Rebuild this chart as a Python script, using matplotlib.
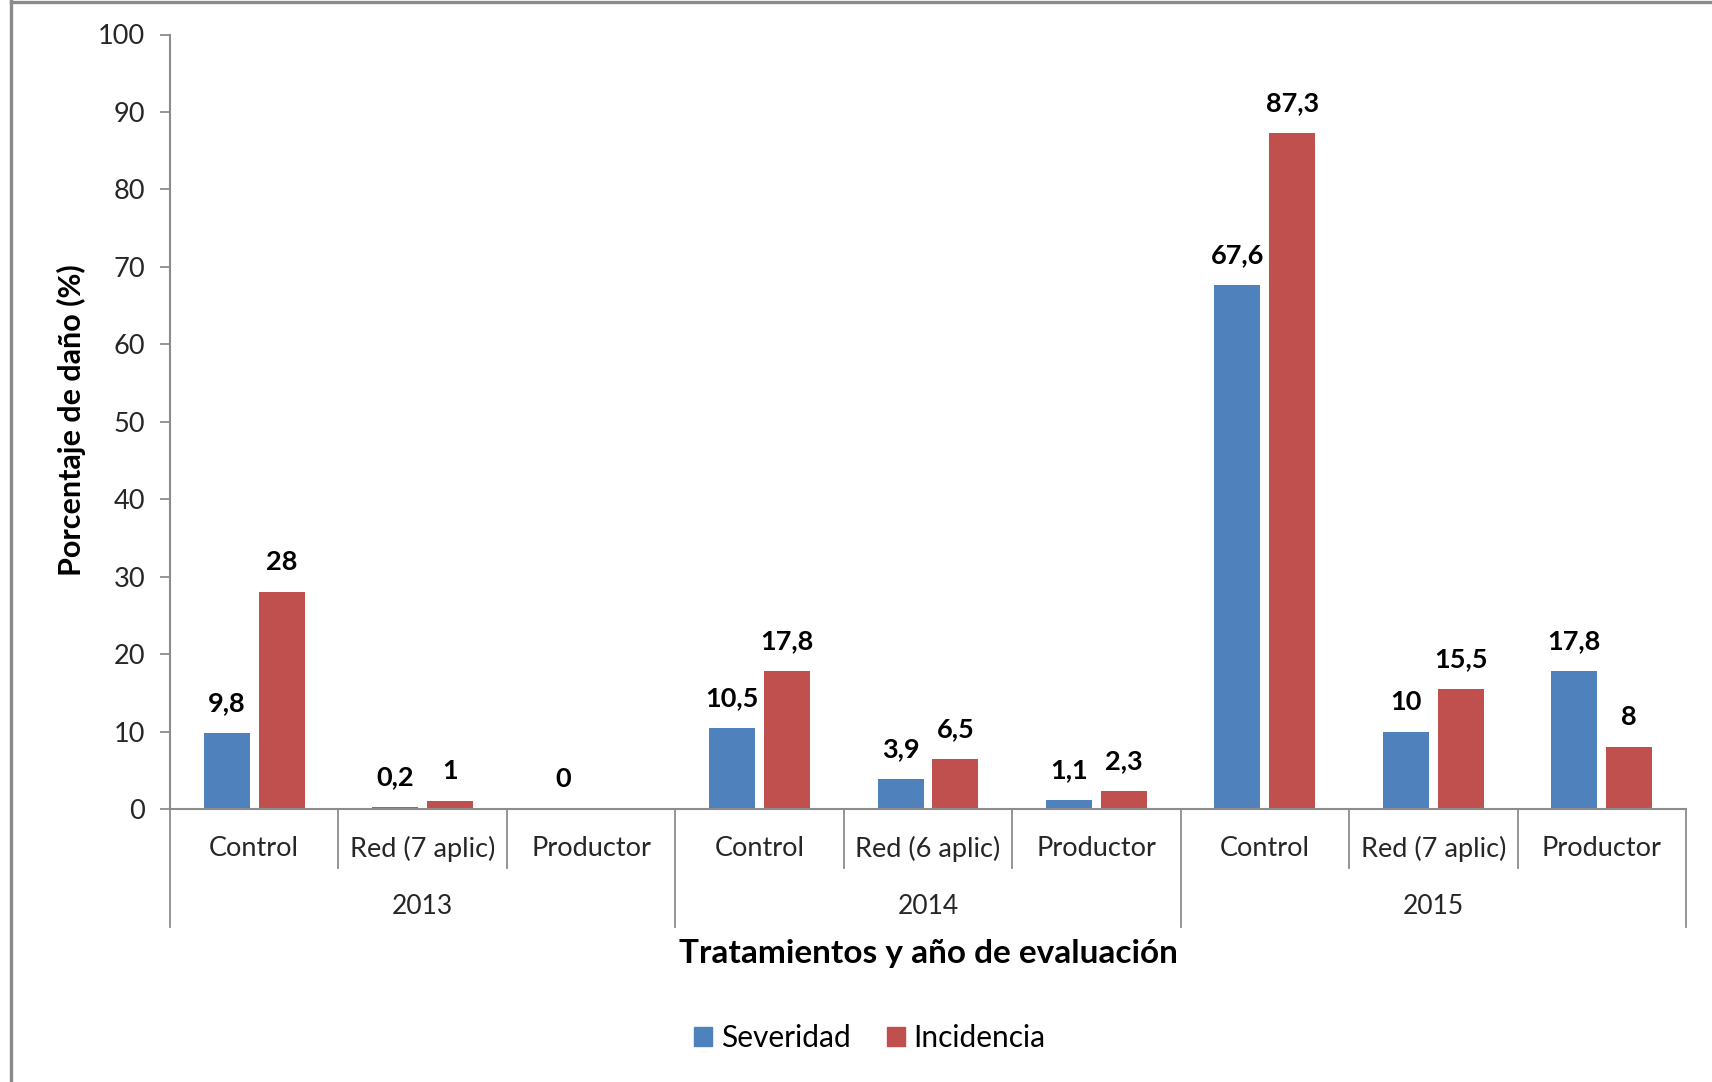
import numpy as np
import matplotlib
matplotlib.use("Agg")
import matplotlib.pyplot as plt
from matplotlib.transforms import blended_transform_factory
from matplotlib.lines import Line2D
from matplotlib.patches import Patch

# ---- data -------------------------------------------------------------
categories = ["Control", "Red (7 aplic)", "Productor",
              "Control", "Red (6 aplic)", "Productor",
              "Control", "Red (7 aplic)", "Productor"]
years = ["2013", "2014", "2015"]
severidad = [9.8, 0.2, 0, 10.5, 3.9, 1.1, 67.6, 10, 17.8]
incidencia = [28, 1, np.nan, 17.8, 6.5, 2.3, 87.3, 15.5, 8]
y_ticks = [0, 10, 20, 30, 40, 50, 60, 70, 80, 90, 100]

# ---- style ------------------------------------------------------------
plt.rcParams['font.family'] = ['Lato', 'DejaVu Sans']
BLUE = "#4F81BD"
RED = "#C0504D"
AXIS_GREY = "#8C8C8C"
TEXT = "#262626"

W, H = 1712, 1082
DPI = 100
fig = plt.figure(figsize=(W / DPI, H / DPI), dpi=DPI)

# axes placement in pixels
x0_px, x1_px = 170, 1686
y_top_px, y_base_px = 34.5, 809
ax = fig.add_axes([x0_px / W, 1 - y_base_px / H,
                   (x1_px - x0_px) / W, (y_base_px - y_top_px) / H])

n = len(categories)
x = np.arange(n)
bar_w = 0.273
off = 0.163

ax.bar(x - off, severidad, width=bar_w, color=BLUE, label="Severidad", zorder=1)
ax.bar(x + off, incidencia, width=bar_w, color=RED, label="Incidencia", zorder=1)

def fmt(v):
    return f"{v:g}".replace(".", ",")

for xs, vals in ((x - off, severidad), (x + off, incidencia)):
    for xi, v in zip(xs, vals):
        if not np.isnan(v):
            ax.annotate(fmt(v), (xi, v), xytext=(0, 21.5), textcoords="offset points",
                        ha="center", va="center", fontweight="bold", fontsize=19.5,
                        color="black")

ax.set_xlim(-0.5, n - 0.5)
ax.set_ylim(0, 100)
ax.set_yticks(y_ticks)
ax.tick_params(axis="y", length=7, width=1.3, color=AXIS_GREY, pad=11,
               labelsize=19.5, labelcolor=TEXT)
ax.set_xticks([])
for s in ["top", "right"]:
    ax.spines[s].set_visible(False)
for s in ["left", "bottom"]:
    ax.spines[s].set_color(AXIS_GREY)
    ax.spines[s].set_linewidth(1.5)
    ax.spines[s].set_zorder(3)

# multi-level category axis
trans = blended_transform_factory(ax.transData, fig.transFigure)
cat_sep_px, grp_sep_px = 868, 927
for b in range(n + 1):
    bx = b - 0.5
    bottom = grp_sep_px if b % 3 == 0 else cat_sep_px
    ax.add_line(Line2D([bx, bx], [1 - y_base_px / H, 1 - bottom / H],
                       transform=trans, color=AXIS_GREY, lw=1.3, clip_on=False))

for xi, c in zip(x, categories):
    fig.text(xi, 1 - 849 / H, c, transform=trans, ha="center", va="center",
             fontsize=19.5, color=TEXT)
for gi, yr in enumerate(years):
    fig.text(gi * 3 + 1, 1 - 906 / H, yr, transform=trans, ha="center",
             va="center", fontsize=19, color=TEXT)

fig.text((x0_px + x1_px) / 2 / W, 1 - 953 / H, "Tratamientos y año de evaluación",
         ha="center", va="center", fontsize=24, fontweight="bold", color="black")
fig.text(71 / W, 1 - 420 / H, "Porcentaje de daño (%)", rotation=90,
         ha="center", va="center", fontsize=22, fontweight="bold", color="black")

handles = [Patch(color=BLUE, label="Severidad"), Patch(color=RED, label="Incidencia")]
fig.legend(handles=handles, loc="center", bbox_to_anchor=(870 / W, 1 - 1038 / H),
           ncol=2, frameon=False, fontsize=21.5, handlelength=0.6, handleheight=0.6,
           handletextpad=0.3, columnspacing=1.2, labelcolor="black")

# outer chart frame (left and top edges)
fig.add_artist(Line2D([11 / W, 11 / W], [0, 1], transform=fig.transFigure,
                      color="#8A8A8A", lw=2.4))
fig.add_artist(Line2D([11 / W, 1], [1 - 1.5 / H, 1 - 1.5 / H], transform=fig.transFigure,
                      color="#8A8A8A", lw=2.4))

fig.savefig("out.png", dpi=DPI, facecolor="white")
